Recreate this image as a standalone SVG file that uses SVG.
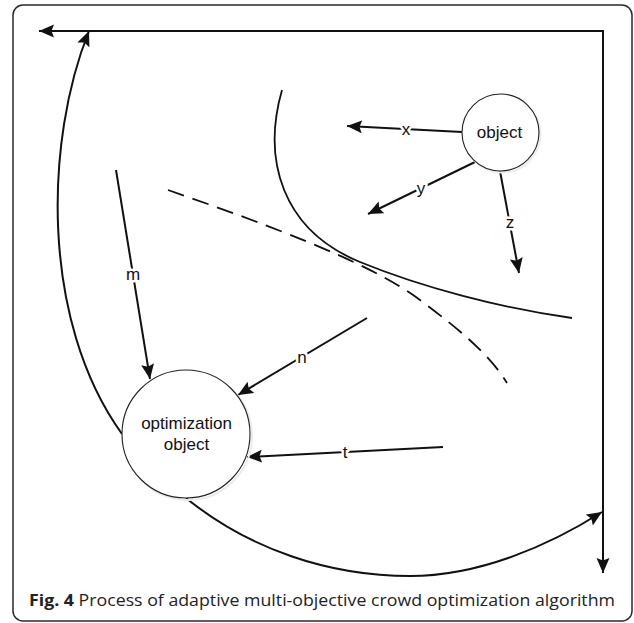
<svg xmlns="http://www.w3.org/2000/svg" width="634" height="623" viewBox="0 0 634 623">
<style>
.frame{fill:none;stroke:#2a2a2a;stroke-width:1.5}
.conn{fill:none;stroke:#111;stroke-width:2}
.curve{fill:none;stroke:#111;stroke-width:1.8}
.dash{fill:none;stroke:#111;stroke-width:1.8;stroke-dasharray:17 9}
.node{fill:#fff;stroke:#222;stroke-width:1.1}
.shadow{fill:none;stroke:#ececec;stroke-width:2}
.ntext{font-family:"Liberation Sans",Arial,sans-serif;font-size:17px;fill:#111;text-anchor:middle}
.lbl{font-family:"Liberation Sans",Arial,sans-serif;font-size:17px;fill:#111;text-anchor:middle;stroke:#fff;stroke-width:5;paint-order:stroke;stroke-linejoin:round}
.cap{font-family:"Open Sans","Liberation Sans",sans-serif;font-size:15.5px;fill:#222}
</style>
<defs>
<marker id="ah" markerWidth="16" markerHeight="14" refX="15" refY="6.5" orient="auto-start-reverse" markerUnits="userSpaceOnUse">
<path d="M0,0 L15,6.5 L0,13 L2.5,6.5 Z" fill="#111"/>
</marker>
</defs>
<rect class="frame" x="13" y="5" width="619" height="616" rx="10"/>
<g id="curves">
<path class="curve" d="M282,90 C262,160 282,230 360,262 C421,287 500,308 572,318"/>
<path class="dash" d="M168,190 C260,222 370,262 420,300 C460,330 490,355 507,383"/>
</g>
<g id="connectors">
<path class="conn" d="M39,31 H603 V573" marker-start="url(#ah)" marker-end="url(#ah)"/>
<path class="conn" d="M122,434 C40,320 45,140 89,31" marker-end="url(#ah)"/>
<path class="conn" d="M186,498 C250,550 330,576 410,576 C480,576 550,545 602,512" marker-end="url(#ah)"/>
<path class="conn" d="M462,132 L347,126" marker-end="url(#ah)"/>
<path class="conn" d="M475,162 L368,214" marker-end="url(#ah)"/>
<path class="conn" d="M500,171 L519,273" marker-end="url(#ah)"/>
<path class="conn" d="M116,170 L150,379" marker-end="url(#ah)"/>
<path class="conn" d="M367,318 L238,395" marker-end="url(#ah)"/>
<path class="conn" d="M443,447 L247,457" marker-end="url(#ah)"/>
<text class="lbl" x="406" y="135">x</text>
<text class="lbl" x="421" y="194">y</text>
<text class="lbl" x="510" y="228">z</text>
<text class="lbl" x="133" y="280">m</text>
<text class="lbl" x="302" y="363">n</text>
<text class="lbl" x="345" y="458">t</text>
</g>
<g id="object">
<circle class="shadow" cx="502" cy="134" r="38.5"/>
<circle class="node" cx="500.5" cy="132.5" r="38.5"/>
<text class="ntext" x="499.5" y="138">object</text>
</g>
<g id="optimization-object">
<circle class="shadow" cx="188" cy="436" r="64"/>
<circle class="node" cx="186" cy="434" r="64"/>
<text class="ntext" x="186.5" y="429">optimization</text>
<text class="ntext" x="186.5" y="450">object</text>
</g>
<text class="cap" x="29" y="606" textLength="586" lengthAdjust="spacingAndGlyphs"><tspan font-weight="bold">Fig. 4</tspan> Process of adaptive multi-objective crowd optimization algorithm</text>
</svg>
